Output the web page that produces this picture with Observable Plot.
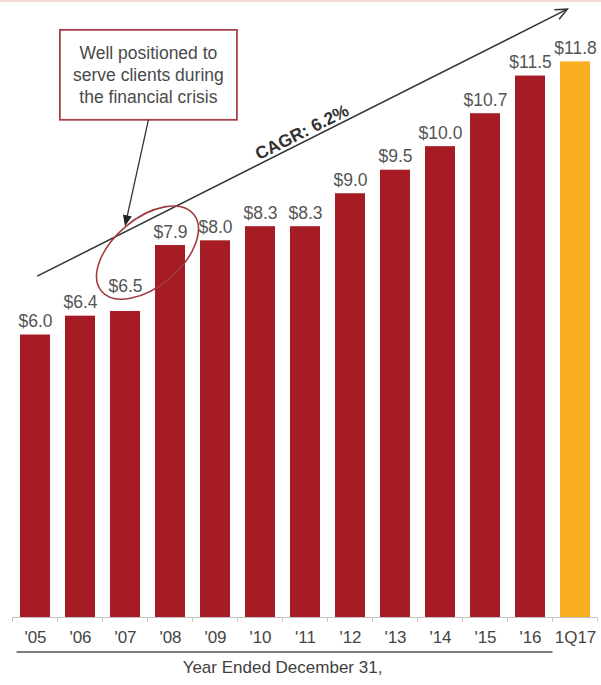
<!DOCTYPE html>
<html>
<head>
<meta charset="utf-8">
<script src="https://cdn.jsdelivr.net/npm/d3@7"></script>
<script src="https://cdn.jsdelivr.net/npm/@observablehq/plot@0.6"></script>
<style>
  html, body { margin: 0; padding: 0; background: #fff; }
  #wrap { position: relative; width: 601px; height: 685px; overflow: hidden; }
  #topline { position: absolute; left: 0; top: 0; width: 601px; height: 2px; background: #f5dada; }
</style>
</head>
<body>
<div id="wrap"><div id="chart"></div><div id="topline"></div></div>
<script>
// Revenue by period ($ billions)
const periods = ["'05", "'06", "'07", "'08", "'09", "'10", "'11", "'12", "'13", "'14", "'15", "'16", "1Q17"];
const revenue = [6.0, 6.4, 6.5, 7.9, 8.0, 8.3, 8.3, 9.0, 9.5, 10.0, 10.7, 11.5, 11.8];
const fullYears = periods.slice(0, 12);
const calloutLines = ["Well positioned to", "serve clients during", "the financial crisis"];
const cagrLabel = "CAGR: 6.2%";
const axisTitle = "Year Ended December 31,";
// The '07 value label sits a little higher so it clears the bar inside the ellipse
const raisedLabel = "'07";

const RED = "#a61c25";
const GOLD = "#f9ae22";
const INK = "#555555";
const FONT = "'Liberation Sans', Arial, Helvetica, sans-serif";

const rows = periods.map((p, i) => ({
  period: p,
  value: revenue[i],
  kind: fullYears.includes(p) ? "year" : "quarter"
}));

// Baseline with boundary ticks between bands, plus the underline and title
// that group the full-year periods.
function baseline(index, {x, y}) {
  const bw = x.bandwidth(), step = x.step(), gap = (step - bw) / 2;
  const edges = periods.map(p => x(p) - gap).concat([x(periods[periods.length - 1]) + bw + gap]);
  const y0 = y(0);
  const g = d3.create("svg:g");
  g.append("line")
    .attr("x1", edges[0]).attr("x2", edges[edges.length - 1])
    .attr("y1", y0 + 0.5).attr("y2", y0 + 0.5)
    .attr("stroke", "#c2c2c2").attr("stroke-width", 1);
  g.selectAll("line.tick").data(edges).join("line")
    .attr("class", "tick")
    .attr("x1", d => d).attr("x2", d => d)
    .attr("y1", y0 + 0.5).attr("y2", y0 + 4.5)
    .attr("stroke", "#c2c2c2").attr("stroke-width", 1);
  const left = x(fullYears[0]) - gap;
  const right = x(fullYears[fullYears.length - 1]) + bw + gap;
  g.append("line")
    .attr("x1", left + 4).attr("x2", right)
    .attr("y1", y0 + 35).attr("y2", y0 + 35)
    .attr("stroke", "#555").attr("stroke-width", 1.6);
  g.append("text")
    .attr("x", (left + right) / 2).attr("y", y0 + 56)
    .attr("text-anchor", "middle")
    .attr("font-family", FONT).attr("font-size", 17)
    .attr("fill", "#3f3f3f")
    .text(axisTitle);
  return g.node();
}

// Growth arrow, callout box with leader, and ellipse around the crisis years.
function annotations(index, {x, y}) {
  const bw = x.bandwidth(), step = x.step();
  const cx = p => x(p) + bw / 2;
  const g = d3.create("svg:g").attr("font-family", FONT);

  // CAGR trend arrow
  const x1 = cx(periods[0]) + 0.05 * step, y1 = y(7.24);
  const x2 = cx(periods[periods.length - 1]) - 0.17 * step, y2 = y(12.91);
  const ang = Math.atan2(y2 - y1, x2 - x1);
  g.append("line")
    .attr("x1", x1).attr("y1", y1).attr("x2", x2).attr("y2", y2)
    .attr("stroke", "#333").attr("stroke-width", 1.5);
  const head = 13, spread = 0.42;
  g.append("path")
    .attr("d", `M${x2 - head * Math.cos(ang - spread)},${y2 - head * Math.sin(ang - spread)}L${x2},${y2}L${x2 - head * Math.cos(ang + spread)},${y2 - head * Math.sin(ang + spread)}`)
    .attr("fill", "none").attr("stroke", "#333").attr("stroke-width", 1.5);
  const mx = (x1 + x2) / 2 + 5 + 12 * Math.sin(ang), my = (y1 + y2) / 2 - 12 * Math.cos(ang);
  g.append("text")
    .attr("transform", `translate(${mx},${my}) rotate(${ang * 180 / Math.PI})`)
    .attr("text-anchor", "middle").attr("dy", "0.35em")
    .attr("font-size", 17.5).attr("font-weight", "bold").attr("fill", "#333")
    .text(cagrLabel);

  // Ellipse around the '07 and '08 labels
  const ex = (cx("'07") + cx("'08")) / 2, ey = y(7.74);
  g.append("ellipse")
    .attr("transform", `translate(${ex},${ey}) rotate(-40)`)
    .attr("rx", 60).attr("ry", 34)
    .attr("fill", "none").attr("stroke", "#a23a3f").attr("stroke-width", 1.6);

  // Callout box
  const bx = cx("'07") + 0.52 * step, bTop = y(12.47), bBot = y(10.56), bW = 177;
  g.append("rect")
    .attr("x", bx - bW / 2).attr("y", bTop)
    .attr("width", bW).attr("height", bBot - bTop)
    .attr("fill", "#fff").attr("stroke", "#a5434a").attr("stroke-width", 1.8);
  g.append("g")
    .selectAll("text").data(calloutLines).join("text")
    .attr("x", bx).attr("y", (d, i) => bTop + 29 + i * 22)
    .attr("text-anchor", "middle").attr("font-size", 17.5).attr("fill", "#4a4a4a")
    .text(d => d);

  // Leader from the box to the ellipse
  const tx = cx("'07"), ty = y(8.30);
  const la = Math.atan2(ty - bBot, tx - bx);
  g.append("line")
    .attr("x1", bx).attr("y1", bBot).attr("x2", tx - 8 * Math.cos(la)).attr("y2", ty - 8 * Math.sin(la))
    .attr("stroke", "#333").attr("stroke-width", 1.3);
  const L = 11, W = 4.5;
  const bxp = tx - L * Math.cos(la), byp = ty - L * Math.sin(la);
  g.append("path")
    .attr("d", `M${tx},${ty}L${bxp + W * Math.sin(la)},${byp - W * Math.cos(la)}L${bxp - W * Math.sin(la)},${byp + W * Math.cos(la)}Z`)
    .attr("fill", "#222");
  return g.node();
}

const labelStyle = {
  x: "period", y: "value",
  text: d => `$${d.value.toFixed(1)}`,
  lineAnchor: "bottom",
  fontSize: 17.5, fill: INK
};

const chart = Plot.plot({
  width: 601,
  height: 685,
  marginTop: 52,
  marginBottom: 68,
  marginLeft: 12,
  marginRight: 3,
  style: {fontFamily: FONT, fontSize: "17px", color: "#454545", background: "#fff"},
  x: {domain: periods, paddingInner: 0.33, paddingOuter: 0.165, align: 0.5, tickSize: 0, tickPadding: 13, label: null},
  y: {domain: [0, 12], axis: null},
  color: {domain: ["year", "quarter"], range: [RED, GOLD]},
  marks: [
    Plot.barY(rows, {x: "period", y: "value", fill: "kind"}),
    Plot.text(rows.filter(d => d.period !== raisedLabel), {...labelStyle, dy: -8}),
    Plot.text(rows.filter(d => d.period === raisedLabel), {...labelStyle, dy: -19}),
    baseline,
    annotations
  ]
});

document.getElementById("chart").appendChild(chart);
</script>
</body>
</html>
